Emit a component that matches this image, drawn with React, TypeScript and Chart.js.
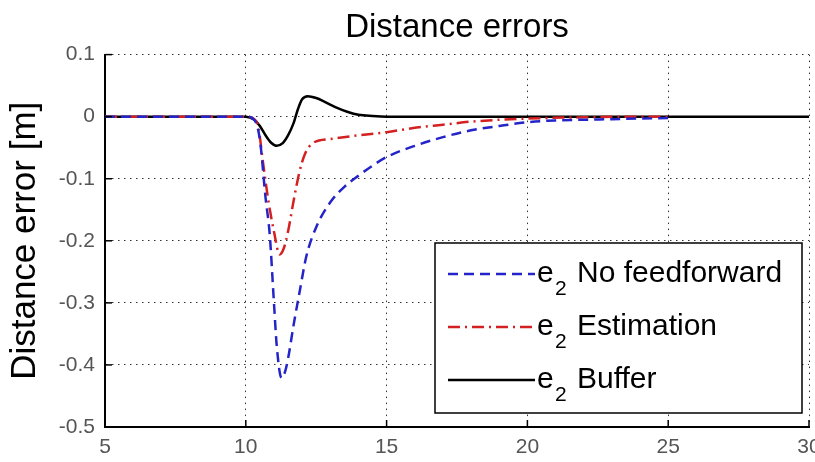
import React, { useEffect, useRef } from 'react';
import { Chart, registerables } from 'chart.js';

Chart.register(...registerables);

// ---- data ----
const xTickValues = [5, 10, 15, 20, 25, 30];
const yTickValues = [0.1, 0, -0.1, -0.2, -0.3, -0.4, -0.5];

const noFeedforwardX = [5, 10, 10.3, 10.5, 10.7, 10.85, 11.0, 11.1, 11.27, 11.4, 11.5, 11.7, 11.9, 12.15, 12.5, 13.0, 13.5, 14.0, 14.5, 15.0, 16.0, 17.0, 18.0, 19.0, 20.0, 21.0, 22.0, 23.0, 24.0, 25.0];
const noFeedforwardY = [0, 0, -0.005, -0.037, -0.13, -0.19, -0.3, -0.37, -0.421, -0.41, -0.39, -0.335, -0.285, -0.225, -0.178, -0.138, -0.113, -0.095, -0.079, -0.065, -0.047, -0.033, -0.022, -0.015, -0.009, -0.006, -0.005, -0.004, -0.003, -0.002];

const estimationX = [5, 10, 10.3, 10.45, 10.6, 10.8, 11.0, 11.2, 11.35, 11.5, 11.7, 11.9, 12.1, 12.4, 13.0, 14.0, 15.0, 16.0, 17.0, 18.0, 19.0, 20.0, 22.0, 24.0, 25.0];
const estimationY = [0, 0, -0.004, -0.018, -0.07, -0.135, -0.185, -0.222, -0.212, -0.185, -0.135, -0.09, -0.06, -0.042, -0.036, -0.03, -0.025, -0.018, -0.013, -0.008, -0.005, -0.003, -0.001, 0, 0];

const bufferX = [5, 10, 10.3, 10.5, 10.7, 10.9, 11.1, 11.3, 11.5, 11.7, 11.85, 12.0, 12.2, 12.5, 12.8, 13.2, 13.6, 14.0, 14.5, 15.0, 30];
const bufferY = [0, 0, -0.005, -0.015, -0.03, -0.042, -0.047, -0.043, -0.03, -0.01, 0.012, 0.028, 0.033, 0.03, 0.024, 0.015, 0.008, 0.003, 0.001, 0, 0];

const seriesNames = ['No feedforward', 'Estimation', 'Buffer'];
const chartTitle = 'Distance errors';
const yAxisTitle = 'Distance error [m]';

const FONT = "'Liberation Sans', Arial, Helvetica, sans-serif";

const toPoints = (xs: number[], ys: number[]) => xs.map((x, i) => ({ x, y: ys[i] }));

// inward tick marks (MATLAB style)
const inwardTicks = {
  id: 'inwardTicks',
  afterDatasetsDraw(chart: any) {
    const { ctx, chartArea, scales } = chart;
    ctx.save();
    ctx.strokeStyle = '#000';
    ctx.lineWidth = 1.5;
    ctx.setLineDash([]);
    xTickValues.forEach((v) => {
      const px = scales.x.getPixelForValue(v);
      ctx.beginPath();
      ctx.moveTo(px, chartArea.bottom);
      ctx.lineTo(px, chartArea.bottom - 7);
      ctx.stroke();
    });
    yTickValues.forEach((v) => {
      const py = scales.y.getPixelForValue(v);
      ctx.beginPath();
      ctx.moveTo(chartArea.left, py);
      ctx.lineTo(chartArea.left + 7, py);
      ctx.stroke();
    });
    ctx.restore();
  },
};

// boxed legend inside plot area with subscript
const boxLegend = {
  id: 'boxLegend',
  afterDraw(chart: any) {
    const { ctx, chartArea } = chart;
    const w = 367;
    const h = 170;
    const x1 = chartArea.right - 7 - w;
    const y1 = chartArea.bottom - 14 - h;
    ctx.save();
    ctx.fillStyle = '#fff';
    ctx.fillRect(x1, y1, w, h);
    ctx.strokeStyle = '#000';
    ctx.lineWidth = 1.5;
    ctx.setLineDash([]);
    ctx.strokeRect(x1, y1, w, h);
    chart.data.datasets.forEach((ds: any, i: number) => {
      const cy = y1 + 31 + i * 53;
      ctx.strokeStyle = ds.borderColor;
      ctx.lineWidth = ds.borderWidth;
      ctx.setLineDash(ds.borderDash || []);
      ctx.beginPath();
      ctx.moveTo(x1 + 13, cy);
      ctx.lineTo(x1 + 100, cy);
      ctx.stroke();
      ctx.setLineDash([]);
      ctx.fillStyle = '#000';
      ctx.textBaseline = 'middle';
      ctx.textAlign = 'left';
      ctx.font = `30px ${FONT}`;
      ctx.fillText('e', x1 + 102, cy);
      ctx.font = `21px ${FONT}`;
      ctx.fillText('2', x1 + 120, cy + 15);
      ctx.font = `30px ${FONT}`;
      ctx.fillText(seriesNames[i], x1 + 142, cy);
    });
    ctx.restore();
  },
};

export default function App() {
  const canvasRef = useRef<HTMLCanvasElement | null>(null);

  useEffect(() => {
    document.body.style.margin = '0';
    const canvas = canvasRef.current;
    if (!canvas) return;
    const chart = new Chart(canvas, {
      type: 'line',
      data: {
        datasets: [
          {
            label: 'e₂ ' + seriesNames[0],
            data: toPoints(noFeedforwardX, noFeedforwardY),
            borderColor: '#2424c8',
            borderWidth: 2.5,
            borderDash: [10, 6],
            pointRadius: 0,
            fill: false,
            cubicInterpolationMode: 'monotone',
          },
          {
            label: 'e₂ ' + seriesNames[1],
            data: toPoints(estimationX, estimationY),
            borderColor: '#d42020',
            borderWidth: 2.5,
            borderDash: [12, 5, 2, 5],
            pointRadius: 0,
            fill: false,
            cubicInterpolationMode: 'monotone',
          },
          {
            label: 'e₂ ' + seriesNames[2],
            data: toPoints(bufferX, bufferY),
            borderColor: '#000000',
            borderWidth: 2.5,
            pointRadius: 0,
            fill: false,
            cubicInterpolationMode: 'monotone',
          },
        ],
      } as any,
      options: {
        responsive: false,
        animation: false,
        layout: { padding: { left: 0, right: 6, top: 0, bottom: 0 }, autoPadding: false } as any,
        plugins: {
          legend: { display: false },
          tooltip: { enabled: false },
          title: {
            display: true,
            fullSize: false,
            text: chartTitle,
            color: '#000',
            font: { family: FONT, size: 33, weight: 'normal' },
            padding: { top: 8, bottom: 7 },
          },
        },
        scales: {
          x: {
            type: 'linear',
            min: 5,
            max: 30,
            afterBuildTicks: (s: any) => {
              s.ticks = xTickValues.map((v) => ({ value: v }));
            },
            ticks: {
              color: '#555',
              font: { family: FONT, size: 21 },
              padding: 8,
              maxRotation: 0,
              autoSkip: false,
            },
            grid: { color: '#333', lineWidth: 1, drawTicks: false },
            border: { display: true, color: '#000', width: 2, dash: [1.5, 4.5] },
            afterFit: (s: any) => {
              s.height = 35;
              s.paddingLeft = 0;
              s.paddingRight = 0;
            },
          },
          y: {
            type: 'linear',
            min: -0.5,
            max: 0.1,
            afterBuildTicks: (s: any) => {
              s.ticks = yTickValues.map((v) => ({ value: v }));
            },
            ticks: {
              color: '#555',
              font: { family: FONT, size: 21 },
              padding: 10,
              autoSkip: false,
              callback: (v: any) => {
                const n = Number(Number(v).toFixed(1));
                return n === 0 ? '0' : String(n);
              },
            },
            grid: { color: '#333', lineWidth: 1, drawTicks: false },
            border: { display: true, color: '#000', width: 2, dash: [1.5, 4.5] },
            title: {
              display: true,
              text: yAxisTitle,
              color: '#000',
              font: { family: FONT, size: 35 },
              padding: { top: 4, bottom: 0 },
            },
            afterFit: (s: any) => {
              s.width = 105;
              s.paddingTop = 0;
              s.paddingBottom = 0;
            },
          },
        },
      } as any,
      plugins: [inwardTicks, boxLegend],
    });
    return () => chart.destroy();
  }, []);

  return (
    <div style={{ position: 'absolute', left: 0, top: 0, width: 815, height: 462, background: '#fff' }}>
      <canvas ref={canvasRef} width={815} height={462} style={{ width: 815, height: 462 }} />
    </div>
  );
}
